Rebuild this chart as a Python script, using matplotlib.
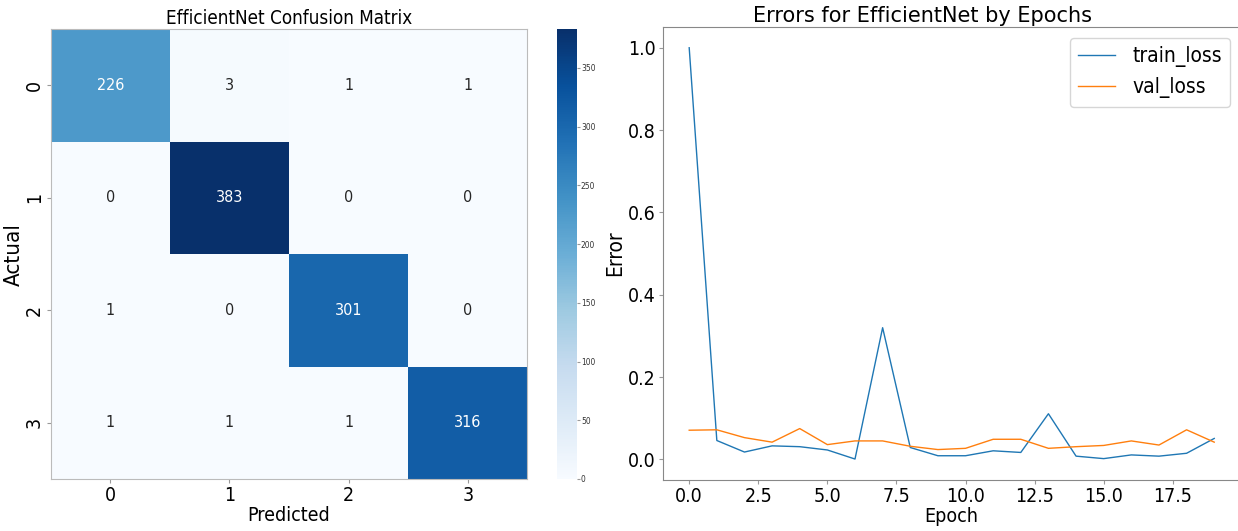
import matplotlib
matplotlib.use("Agg")
import matplotlib.pyplot as plt
from matplotlib.ticker import MultipleLocator, FormatStrFormatter
import numpy as np
import seaborn as sns

labels = ["0", "1", "2", "3"]
cm = np.array([[226, 3, 1, 1],
               [0, 383, 0, 0],
               [1, 0, 301, 0],
               [1, 1, 1, 316]])

epochs = list(range(20))
train_loss = [1.0, 0.046, 0.018, 0.033, 0.031, 0.023, 0.001, 0.320, 0.029, 0.009,
              0.009, 0.021, 0.017, 0.111, 0.008, 0.002, 0.011, 0.008, 0.015, 0.051]
val_loss = [0.071, 0.072, 0.053, 0.042, 0.075, 0.036, 0.045, 0.045, 0.032, 0.024,
            0.027, 0.049, 0.049, 0.027, 0.031, 0.034, 0.045, 0.035, 0.072, 0.042]

plt.rcParams['font.family'] = ['DejaVu Sans']
plt.rcParams['font.stretch'] = 'condensed'

fig = plt.figure(figsize=(12.38, 5.31), dpi=100)
ax1 = fig.add_axes([0.041, 0.098, 0.385, 0.847])
cax = fig.add_axes([0.4502, 0.098, 0.0157, 0.847])
ax2 = fig.add_axes([0.5355, 0.0968, 0.4665, 0.852])

sns.heatmap(cm, annot=True, fmt='d', cmap='Blues', ax=ax1, cbar_ax=cax,
            annot_kws={'size': 11.5}, xticklabels=labels, yticklabels=labels)
for s in ax1.spines.values():
    s.set_visible(True)
    s.set_color('#bbbbbb')
ax1.set_title("EfficientNet Confusion Matrix", fontsize=13.5, pad=4)
ax1.set_xlabel("Predicted", fontsize=14, labelpad=1)
ax1.set_ylabel("Actual", fontsize=16, labelpad=1)
ax1.tick_params(axis='both', labelsize=14, color='#999999', length=3, pad=2)
cax.tick_params(labelsize=6, color='#999999', labelcolor='#333333', length=2, pad=1)
cb = ax1.collections[0].colorbar
cb.outline.set_visible(True)
cb.outline.set_edgecolor('#bbbbbb')
cb.set_ticks([0, 50, 100, 150, 200, 250, 300, 350])

ax2.plot(epochs, train_loss, color='#1f77b4', label='train_loss', linewidth=1)
ax2.plot(epochs, val_loss, color='#ff7f0e', label='val_loss', linewidth=1)
ax2.set_title("Errors for EfficientNet by Epochs", fontsize=15, fontstretch='normal',
              x=0.449, pad=4)
ax2.set_xlabel("Epoch", fontsize=14, labelpad=1)
ax2.set_ylabel("Error", fontsize=15, labelpad=2)
ax2.xaxis.set_major_locator(MultipleLocator(2.5))
ax2.xaxis.set_major_formatter(FormatStrFormatter('%.1f'))
ax2.yaxis.set_major_formatter(FormatStrFormatter('%.1f'))
ax2.tick_params(axis='both', labelsize=14, color='#999999', length=3, pad=2)
for s in ax2.spines.values():
    s.set_color('#888888')
ax2.legend(fontsize=15, loc='upper right', handlelength=1.8)

fig.savefig("out.png", dpi=100)
